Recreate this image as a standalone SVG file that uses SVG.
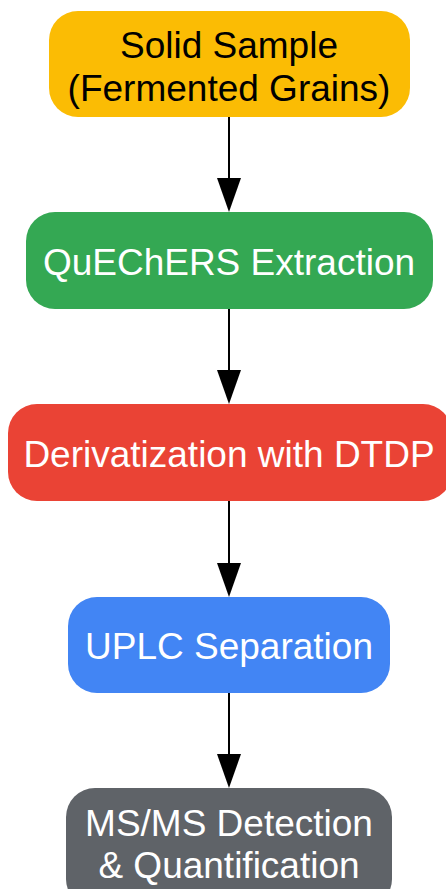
<svg xmlns="http://www.w3.org/2000/svg" width="446" height="889" viewBox="0 0 446 889">
<style>
text{font-family:"Liberation Sans",Arial,sans-serif;font-size:37px;text-anchor:middle}
.dk{fill:#000}.lt{fill:#fff}
.edge{stroke:#000;stroke-width:2;fill:none}
</style>
<rect width="446" height="889" fill="#fff"/>
<g id="edges">
<path class="edge" d="M229,117 V180"/>
<path class="edge" d="M229,309 V372"/>
<path class="edge" d="M229,501 V565"/>
<path class="edge" d="M229,693 V756"/>
<g id="arrowheads" fill="#000">
<path d="M217,178 L241,178 L229,212 Z"/>
<path d="M217,370 L241,370 L229,404 Z"/>
<path d="M217,563 L241,563 L229,597 Z"/>
<path d="M217,754 L241,754 L229,788 Z"/>
</g>
</g>
<g id="n1"><rect x="49" y="11" width="361" height="106" rx="29" fill="#FBBC04"/><text class="dk" x="229" y="58">Solid Sample</text><text class="dk" x="229" y="101">(Fermented Grains)</text></g>
<g id="n2"><rect x="26" y="212" width="407" height="97" rx="29" fill="#34A853"/><text class="lt" x="229" y="275">QuEChERS Extraction</text></g>
<g id="n3"><rect x="8" y="404" width="444" height="97" rx="29" fill="#EA4335"/><text class="lt" x="229" y="467">Derivatization with DTDP</text></g>
<g id="n4"><rect x="68" y="597" width="322" height="96" rx="29" fill="#4285F4"/><text class="lt" x="229" y="659">UPLC Separation</text></g>
<g id="n5"><rect x="66" y="788" width="326" height="120" rx="29" fill="#5F6368"/><text class="lt" x="229" y="836">MS/MS Detection</text><text class="lt" x="229" y="878">&amp; Quantification</text></g>
</svg>
